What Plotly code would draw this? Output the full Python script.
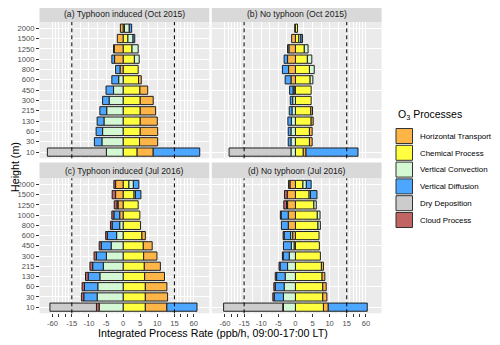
import plotly.graph_objects as go

# heights (m), bottom to top
heights = ['10', '30', '60', '130', '215', '300', '450', '600', '800', '1000', '1250', '1500', '2000']

panel_titles = ['(a) Typhoon induced (Oct 2015)', '(b) No typhoon (Oct 2015)',
                '(c) Typhoon induced (Jul 2016)', '(d) No typhoon (Jul 2016)']

# integrated process rates (ppb/h), one list per panel, heights bottom to top
ht_a = [4.7, 5.3, 5.1, 5.0, 4.5, 3.8, 2.3, 0.8, -0.9, -2.5, -2.6, -1.7, -0.8]
chem_a = [4.1, 4.8, 5.0, 5.0, 5.0, 5.0, 4.9, 4.5, 4.4, 3.3, 2.6, 1.4, 0.4]
vc_a = [-4.9, -6.2, -6.0, -5.6, -4.8, -4.1, -2.8, -1.3, None, 1.4, 1.8, 1.5, 1.4]
vd_a = [13.6, -2.2, -1.9, -2.0, -2.0, -1.9, -2.2, -2.0, -1.3, -0.8, -0.2, 0.5, 0.7]
dry_a = [-33.0] + [None] * 12
cloud_a = [None] * 13

ht_b = [0.8, 0.8, 0.8, 0.6, 0.5, None, -0.4, -1.3, -2.0, -2.3, -1.9, -1.1, -0.2]
chem_b = [2.3, 4.1, 4.1, 4.6, 4.5, 4.6, 4.6, 4.3, 4.1, 3.5, 2.6, 1.0, 0.6]
vc_b = [-1.3, -1.3, -1.3, -1.2, -1.0, -0.8, -0.3, 0.8, 1.4, 1.3, 1.1, 0.6, None]
vd_b = [16.6, -0.8, -0.8, -1.0, -0.8, -0.7, -1.0, -1.7, -1.8, -1.0, -0.4, 0.5, None]
dry_b = [-39.8] + [None] * 12
cloud_b = [None] * 13

ht_c = [6.3, 6.5, 6.3, 5.8, 4.7, 3.9, 2.6, 1.0, None, -1.0, -1.5, -2.2, -2.2]
chem_c = [6.5, 6.5, 6.5, 6.3, 6.2, 6.0, 5.9, 5.5, 5.1, 4.9, 4.4, 3.2, 1.7]
vc_c = [-7.0, -7.6, -7.4, -6.8, -5.8, -4.9, -3.5, -1.9, -1.0, None, None, 0.4, 1.3]
vd_c = [8.8, -3.9, -3.9, -3.4, -3.1, -2.9, -2.9, -2.7, -2.2, -1.7, -0.3, 1.6, 1.6]
dry_c = [-13.6] + [None] * 12
cloud_c = [-0.8, -0.7, -0.7, -0.8, -0.8, -0.7, -0.6, -0.5, -0.5, -0.6, -0.8, -1.0, -0.5]

ht_d = [1.4, 1.2, 1.0, 0.8, 0.6, None, -0.4, -0.8, -2.1, -2.1, -2.3, -2.4, -1.6]
chem_d = [8.2, 8.0, 8.0, 7.8, 7.6, 7.3, 7.0, 6.9, 6.6, 6.4, 5.4, 4.0, 2.2]
vc_d = [-3.5, -3.5, -3.3, -3.0, -2.3, -1.8, -0.8, -0.6, 0.7, 0.8, 0.7, 0.4, 1.0]
vd_d = [11.4, -2.7, -2.6, -2.5, -2.2, -1.8, -2.3, -1.9, -2.0, -2.1, -0.3, 1.9, 1.4]
dry_d = [-33.4] + [None] * 12
cloud_d = [-0.2, -0.4, -0.4, -0.4, -0.3, -0.2, None, -0.3, None, -0.2, -0.8, -0.8, -0.4]

processes = ['Horizontal Transport', 'Chemical Process', 'Vertical Convection',
             'Vertical Diffusion', 'Dry Deposition', 'Cloud Process']
colors = {'Horizontal Transport': '#FDB547', 'Chemical Process': '#FFFF40',
          'Vertical Convection': '#D4F8D4', 'Vertical Diffusion': '#4DA6FF',
          'Dry Deposition': '#CCCCCC', 'Cloud Process': '#C06464'}

panels = [
    {'Horizontal Transport': ht_a, 'Chemical Process': chem_a, 'Vertical Convection': vc_a,
     'Vertical Diffusion': vd_a, 'Dry Deposition': dry_a, 'Cloud Process': cloud_a},
    {'Horizontal Transport': ht_b, 'Chemical Process': chem_b, 'Vertical Convection': vc_b,
     'Vertical Diffusion': vd_b, 'Dry Deposition': dry_b, 'Cloud Process': cloud_b},
    {'Horizontal Transport': ht_c, 'Chemical Process': chem_c, 'Vertical Convection': vc_c,
     'Vertical Diffusion': vd_c, 'Dry Deposition': dry_c, 'Cloud Process': cloud_c},
    {'Horizontal Transport': ht_d, 'Chemical Process': chem_d, 'Vertical Convection': vc_d,
     'Vertical Diffusion': vd_d, 'Dry Deposition': dry_d, 'Cloud Process': cloud_d},
]

# stacking order outward from zero
stack_order = ['Chemical Process', 'Horizontal Transport', 'Vertical Convection',
               'Vertical Diffusion', 'Cloud Process', 'Dry Deposition']

x_breaks = [-60, -45, -30, -15, -10, -5, 0, 5, 10, 15, 30, 45, 60]
x_labels = ['-60', '', '', '-15', '-10', '-5', '0', '5', '10', '15', '', '', '60']


def squash(v):
    # linear inside +-15, compressed 8x outside
    if v is None:
        return None
    if abs(v) <= 15:
        return v
    s = 1 if v > 0 else -1
    return s * (15 + (abs(v) - 15) / 8.0)


# the page body adds an 8px margin: keep the figure inside the 500x345 window
OFF = 8
W, H = 500 - OFF, 345 - OFF


def px(x):
    return (x - OFF) / W


def py(y):
    return 1 - (y - OFF) / H


fig = go.Figure()

xdom = [(39.5, 209.3), (211.8, 381.6)]
ydom = [(22.0, 158.3), (178.3, 313.3)]
strips = [(5.5, 22.0), (162.5, 178.3)]
xrange_t = [-24.45, 25.2]

tick_t = [squash(v) for v in x_breaks]
minor_t = []
for i in range(len(x_breaks) - 1):
    minor_t.append(squash((x_breaks[i] + x_breaks[i + 1]) / 2))

font = 'Liberation Sans, Arial, sans-serif'


def label(x, y, text, size, color='black', xanchor='center', angle=0):
    fig.add_annotation(xref='paper', yref='paper', x=px(x), y=py(y), text=text,
                       xanchor=xanchor, yanchor='middle', showarrow=False, textangle=angle,
                       font=dict(family=font, size=size, color=color))


for k, data in enumerate(panels):
    r, c = divmod(k, 2)
    n = k + 1
    xa = 'x' if n == 1 else 'x%d' % n
    ya = 'y' if n == 1 else 'y%d' % n
    for proc in stack_order:
        vals = [squash(v) for v in data[proc]]
        fig.add_trace(go.Bar(
            y=heights, x=vals, orientation='h', name=proc, width=0.8,
            marker=dict(color=colors[proc], line=dict(color='#1F1F1F', width=1)),
            xaxis=xa, yaxis=ya, showlegend=False))

    xkey = 'xaxis' if n == 1 else 'xaxis%d' % n
    ykey = 'yaxis' if n == 1 else 'yaxis%d' % n
    fig.layout[xkey] = dict(
        domain=[px(xdom[c][0]), px(xdom[c][1])], anchor=ya, range=xrange_t,
        tickvals=tick_t, ticktext=x_labels, showticklabels=(r == 1),
        ticks='outside' if r == 1 else '', ticklen=2.5,
        tickwidth=0.8, tickcolor='#333333', zeroline=False, showline=False,
        gridcolor='white', gridwidth=1,
        minor=dict(tickvals=minor_t, showgrid=True, gridcolor='white', gridwidth=0.5),
        tickfont=dict(family=font, size=7.6, color='#4D4D4D'))
    fig.layout[ykey] = dict(
        domain=[py(ydom[r][1]), py(ydom[r][0])], anchor=xa,
        type='category', categoryorder='array', categoryarray=heights,
        range=[-0.6, len(heights) - 0.4], showticklabels=(c == 0),
        ticks='outside' if c == 0 else '', ticklen=2.5, tickwidth=0.8,
        tickcolor='#333333', showline=False, zeroline=False,
        gridcolor='white', gridwidth=1,
        tickfont=dict(family=font, size=7.6, color='#4D4D4D'))

    # dashed reference lines at +-15
    for v in (-15, 15):
        fig.add_shape(type='line', xref=xa, yref=ya + ' domain', x0=squash(v), x1=squash(v),
                      y0=0, y1=1, line=dict(color='black', width=1, dash='4px,3px'), layer='above')

    # facet strip
    fig.add_shape(type='rect', xref='paper', yref='paper',
                  x0=px(xdom[c][0]), x1=px(xdom[c][1]),
                  y0=py(strips[r][1]), y1=py(strips[r][0]),
                  fillcolor='#D9D9D9', line=dict(width=0), layer='below')
    label((xdom[c][0] + xdom[c][1]) / 2, (strips[r][0] + strips[r][1]) / 2 + 0.5,
          panel_titles[k], 8.6, '#1A1A1A')

# axis titles
label(212.5, 333, 'Integrated Process Rate (ppb/h, 09:00-17:00 LT)', 10.7)
label(14.5, 167.5, 'Height (m)', 10.7, angle=-90)

# legend drawn by hand
label(396, 115, 'O<sub>3</sub> Processes', 10.5, xanchor='left')
for i, proc in enumerate(processes):
    top = 128.5 + i * 16.8
    fig.add_shape(type='rect', xref='paper', yref='paper', x0=px(396), x1=px(412.5),
                  y0=py(top + 15), y1=py(top), fillcolor=colors[proc],
                  line=dict(color='#333333', width=1))
    label(418, top + 7.8, proc, 7.9, xanchor='left')

fig.update_layout(
    width=W, height=H, barmode='relative', bargap=0.2,
    margin=dict(l=0, r=0, t=0, b=0),
    paper_bgcolor='white', plot_bgcolor='#EBEBEB', showlegend=False)

fig.write_html('out.html')
